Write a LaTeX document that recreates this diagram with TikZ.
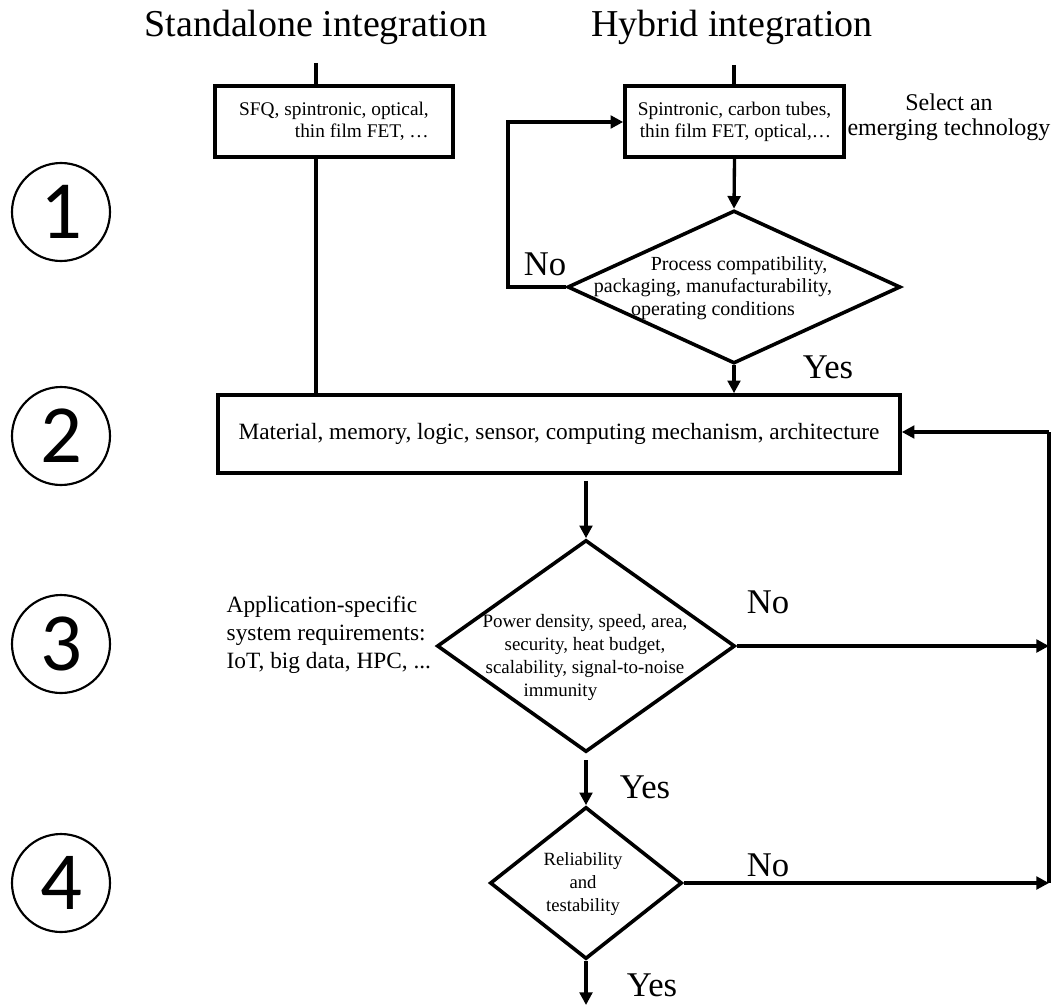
\documentclass[tikz,border=0pt]{standalone}
\usepackage{fontspec}
\setmainfont{Liberation Serif}
\newfontfamily\numfont{Carlito}
\usetikzlibrary{arrows.meta,shapes.geometric}

\tikzset{
  box/.style={draw, line width=2.7pt, rectangle, inner sep=0pt},
  dia/.style={draw, line width=2.7pt, diamond, inner sep=0pt, aspect=1},
  circ/.style={draw, line width=1.6pt, circle, minimum size=73.5pt, inner sep=0pt,
    font=\numfont\fontsize{62pt}{62pt}\selectfont},
  title/.style={font=\fontsize{28.5pt}{32pt}\selectfont, anchor=base},
  yn/.style={font=\fontsize{26pt}{28pt}\selectfont},
  small/.style={font=\fontsize{14.5pt}{16.5pt}\selectfont},
  dtext/.style={align=center, inner sep=0pt},
  mid/.style={font=\fontsize{17.5pt}{21pt}\selectfont},
  link/.style={line width=2.5pt},
  arr/.style={line width=2.5pt, -{Triangle[length=9.5pt, width=9.5pt]}},
}

\begin{document}
\begin{tikzpicture}[x=0.75pt, y=-0.75pt]
\useasboundingbox (0,0) rectangle (1059,1006);

% column titles
\node[title] (t1) at (316,37) {Standalone integration};
\node[title] (t2) at (732,37) {Hybrid integration};

% step numbers
\node[circ] (c1) at (61,212) {1};
\node[circ] (c2) at (61,436) {2};
\node[circ] (c3) at (61,644) {3};
\node[circ] (c4) at (61,883) {4};

% step 1: technology boxes
\node[box, small, align=right, minimum width=178.5pt, minimum height=53.25pt] (b1) at (334,121.5)
  {SFQ, spintronic, optical,\\thin film FET, \dots};
\node[box, small, align=right, minimum width=164.25pt, minimum height=53.25pt] (b2) at (734.5,121.5)
  {Spintronic, carbon tubes,\\thin film FET, optical,\dots};
\node[font=\fontsize{18pt}{18.75pt}\selectfont, align=center] (sel) at (949,117)
  {Select an\\emerging technology};

% hybrid compatibility check
\node[dia, minimum width=249.75pt, minimum height=114.75pt] (d1) at (734,287) {};
\node[dtext, font=\fontsize{15pt}{17pt}\selectfont] (d1t) at (713,288)
  {\hspace*{2.6em}Process compatibility,\\packaging, manufacturability,\\operating conditions};

% step 2: design box
\node[box, mid, minimum width=511.5pt, minimum height=58.5pt] (bb) at (559,434)
  {Material, memory, logic, sensor, computing mechanism, architecture};

% step 3: system requirements
\node[mid, align=left, anchor=west] (app) at (222,635)
  {Application-specific\\system requirements:\\IoT, big data, HPC, ...};
\node[dia, minimum width=223.5pt, minimum height=159pt] (d2) at (586,646) {};
\node[dtext, font=\fontsize{14.2pt}{17.25pt}\selectfont] (d2t) at (585,657)
  {Power density, speed, area,\\security, heat budget,\\scalability, signal-to-noise\\immunity\hspace*{2.6em}};

% step 4: reliability
\node[dia, minimum width=144pt, minimum height=114pt] (d3) at (586,883) {};
\node[dtext, font=\fontsize{14pt}{17pt}\selectfont] (d3t) at (583,884)
  {Reliability\\and\\testability};

% free ends of the connectors
\coordinate (s1) at (316,63);
\coordinate (s2) at (734,65);
\coordinate (lp) at (508,122);
\coordinate (rr) at (1049,432);
\coordinate (rb) at (1049,883);
\coordinate (out) at (586,1005);

% connectors
\draw[link] (s1) -- (s1 |- b1.north);
\draw[link] (s1 |- b1.south) -- (s1 |- bb.north);
\draw[link] (s2) -- (s2 |- b2.north);
\draw[arr] (b2.south) -- (d1.north);
\draw[arr] (d1.west) -| (lp) -- (lp -| b2.west);
\draw[arr] (d1.south) -- (d1.south |- bb.north);
\draw[arr, shorten <=4.5pt] (d2.north |- bb.south) -- (d2.north);
\draw[arr] (d2.east) -- (d2.east -| rr);
\draw[arr, shorten <=5pt] (d2.south) -- (d3.north);
\draw[arr] (d3.east) -- (rb);
\draw[link] (rb) -- (rr);
\draw[arr] (rr) -- (rr -| bb.east);
\draw[arr] (d3.south) -- (out);

% branch labels
\node[yn] (no1) at (545,264) {No};
\node[yn] (yes1) at (828,367) {Yes};
\node[yn] (no2) at (768,602) {No};
\node[yn] (yes2) at (645,787) {Yes};
\node[yn] (no3) at (768,865) {No};
\node[yn] (yes3) at (652,985) {Yes};
\end{tikzpicture}
\end{document}
